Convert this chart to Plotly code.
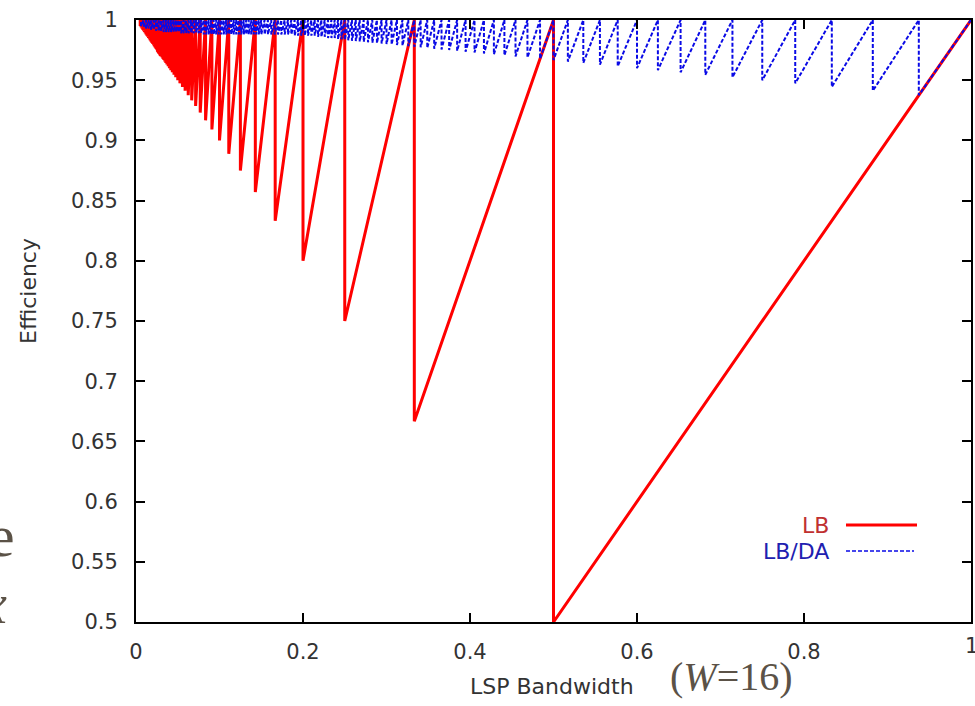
import plotly.graph_objects as go

# ---- data ----
# LB: positions where the curve drops (x) and the value it drops to (y)
lb_drop_x = [0.5, 0.3333, 0.25, 0.2, 0.1667, 0.1429, 0.125, 0.1111, 0.1, 0.0909,
             0.0833, 0.0769, 0.0714, 0.0667, 0.0625, 0.0588, 0.0556, 0.0526, 0.05, 0.0476,
             0.0455, 0.0435, 0.0417, 0.04, 0.0385, 0.037, 0.0357, 0.0345, 0.0333, 0.0323,
             0.0313, 0.0303, 0.0294, 0.0286, 0.0278, 0.027, 0.0263, 0.0256, 0.025,
             0.024, 0.023, 0.022, 0.021, 0.02, 0.019, 0.018, 0.017, 0.016, 0.015,
             0.014, 0.013, 0.012, 0.011, 0.01, 0.009, 0.008, 0.007, 0.006, 0.005]
lb_low_y = [0.5, 0.6667, 0.75, 0.8, 0.8333, 0.8571, 0.875, 0.8889, 0.9, 0.9091,
            0.9167, 0.9231, 0.9286, 0.9333, 0.9375, 0.9412, 0.9444, 0.9474, 0.95, 0.9524,
            0.9545, 0.9565, 0.9583, 0.96, 0.9615, 0.963, 0.9643, 0.9655, 0.9667, 0.9677,
            0.9688, 0.9697, 0.9706, 0.9714, 0.9722, 0.973, 0.9737, 0.9744, 0.975,
            0.976, 0.977, 0.978, 0.979, 0.98, 0.981, 0.982, 0.983, 0.984, 0.985,
            0.986, 0.987, 0.988, 0.989, 0.99, 0.991, 0.992, 0.993, 0.994, 0.995]

# LB/DA (W=16): drop positions and values
lbda_drop_x = [0.9375, 0.8824, 0.8333, 0.7895, 0.75, 0.7143, 0.6818, 0.6522, 0.625, 0.6,
               0.5769, 0.5556, 0.5357, 0.5172, 0.5, 0.4839, 0.4688, 0.4545, 0.4412, 0.4286,
               0.4167, 0.4054, 0.3947, 0.3846, 0.375, 0.3659, 0.3571, 0.3488, 0.3409, 0.3333,
               0.3261, 0.3191, 0.3125, 0.3061, 0.3, 0.2941, 0.2885, 0.283, 0.2778, 0.2727,
               0.2679, 0.2632, 0.2586, 0.2542, 0.25,
               0.246, 0.242, 0.238, 0.234, 0.23, 0.226, 0.222, 0.218, 0.214, 0.21,
               0.206, 0.202, 0.198, 0.194, 0.19, 0.186, 0.182, 0.178, 0.174, 0.17,
               0.166, 0.162, 0.158, 0.154, 0.15, 0.147, 0.144, 0.141, 0.138, 0.135,
               0.132, 0.129, 0.126, 0.123, 0.12, 0.117, 0.114, 0.111, 0.108, 0.105,
               0.102, 0.099, 0.096, 0.093, 0.09, 0.087, 0.084, 0.081, 0.078, 0.075,
               0.072, 0.069, 0.066, 0.063, 0.06, 0.057, 0.054, 0.051, 0.048, 0.045,
               0.042, 0.039, 0.036, 0.033, 0.03, 0.027, 0.024, 0.021, 0.018, 0.015,
               0.012, 0.009, 0.006]
lbda_low_y = [0.9375, 0.9412, 0.9444, 0.9474, 0.95, 0.9524, 0.9545, 0.9565, 0.9583, 0.96,
              0.9615, 0.963, 0.9643, 0.9655, 0.9667, 0.9677, 0.9688, 0.9697, 0.9706, 0.9714,
              0.9722, 0.973, 0.9737, 0.9744, 0.975, 0.9756, 0.9762, 0.9767, 0.9773, 0.9778,
              0.9783, 0.9787, 0.9792, 0.9796, 0.98, 0.9804, 0.9808, 0.9811, 0.9815, 0.9818,
              0.9821, 0.9825, 0.9828, 0.9831, 0.9833,
              0.984, 0.984, 0.985, 0.985, 0.985, 0.986, 0.986, 0.986, 0.987, 0.987,
              0.987, 0.987, 0.987, 0.987, 0.987, 0.988, 0.988, 0.988, 0.988, 0.988,
              0.988, 0.988, 0.988, 0.988, 0.988, 0.988, 0.988, 0.988, 0.988, 0.988,
              0.988, 0.988, 0.988, 0.988, 0.988, 0.988, 0.988, 0.988, 0.988, 0.988,
              0.988, 0.988, 0.988, 0.988, 0.988, 0.988, 0.988, 0.988, 0.989, 0.989,
              0.989, 0.989, 0.989, 0.989, 0.989, 0.989, 0.989, 0.99, 0.99, 0.99,
              0.99, 0.99, 0.99, 0.99, 0.991, 0.991, 0.991, 0.992, 0.992, 0.993,
              0.993, 0.994, 0.995]
peak_y = 1.0

x_tick_vals = [0, 0.2, 0.4, 0.6, 0.8, 1]
x_tick_text = ["0", "0.2", "0.4", "0.6", "0.8", "1"]
y_tick_vals = [0.5, 0.55, 0.6, 0.65, 0.7, 0.75, 0.8, 0.85, 0.9, 0.95, 1.0]
y_tick_text = ["0.5", "0.55", "0.6", "0.65", "0.7", "0.75", "0.8", "0.85", "0.9", "0.95", "1"]


def sawtooth(drop_x, low_y):
    xs, ys = [1.0], [peak_y]
    for dx, ly in zip(drop_x, low_y):
        xs += [dx, dx]
        ys += [ly, peak_y]
    return xs, ys


lb_x, lb_y = sawtooth(lb_drop_x, lb_low_y)
da_x, da_y = sawtooth(lbda_drop_x, lbda_low_y)

RED = "#ff0000"
BLUE = "#0a0ae6"
TXT = "#333333"
SLIDE = "#5b5247"
FONT = "DejaVu Sans"

fig = go.Figure()
fig.add_trace(go.Scatter(x=lb_x, y=lb_y, mode="lines", name="LB",
                         line=dict(color=RED, width=3), showlegend=False))
fig.add_trace(go.Scatter(x=da_x, y=da_y, mode="lines", name="LB/DA",
                         line=dict(color=BLUE, width=2, dash="4px,2px"), showlegend=False))

L, R, T, B = 136, 4, 20, 84
W, H = 975, 706
PW, PH = W - L - R, H - T - B


def px(xp):
    return (xp - L) / PW


def py(yp):
    return (H - B - yp) / PH


axis_common = dict(showline=True, linecolor="black", linewidth=2, mirror="ticks",
                   ticks="inside", ticklen=9, tickwidth=2, tickcolor="black",
                   showgrid=False, zeroline=False, automargin=False,
                   tickfont=dict(family=FONT, size=21, color=TXT))

# last x tick label sits on the page edge; it is drawn as an annotation
x_axis_text = x_tick_text[:-1] + [""]

fig.update_layout(
    width=W, height=H,
    margin=dict(l=L, r=R, t=T, b=B, autoexpand=False),
    paper_bgcolor="white", plot_bgcolor="white",
    xaxis=dict(range=[0, 1], tickvals=x_tick_vals, ticktext=x_axis_text,
               ticklabelstandoff=10, **axis_common),
    yaxis=dict(range=[0.5, 1], tickvals=y_tick_vals, ticktext=y_tick_text,
               ticklabelstandoff=12, **axis_common),
    showlegend=False,
)

annotations = [
    dict(text=x_tick_text[-1], x=x_tick_vals[-1], y=py(646),
         font=dict(family=FONT, size=21, color=TXT)),
    dict(text="Efficiency", x=px(28), y=py(291), textangle=-90,
         font=dict(family=FONT, size=22, color=TXT)),
    dict(text="LSP Bandwidth", x=px(552), y=py(686),
         font=dict(family=FONT, size=22, color=TXT)),
    dict(text="(<i>W</i>=16)", x=px(731), y=py(676),
         font=dict(family="Liberation Serif", size=40, color=SLIDE)),
    dict(text="e", x=px(17), y=py(536), xanchor="right",
         font=dict(family="Liberation Serif", size=60, color=SLIDE)),
    dict(text="<i>x</i>", x=px(9), y=py(604), xanchor="right",
         font=dict(family="Liberation Serif", size=56, color=SLIDE)),
    dict(text="LB", x=px(831), y=py(525), xanchor="right",
         font=dict(family=FONT, size=22, color="#c03030")),
    dict(text="LB/DA", x=px(831), y=py(551), xanchor="right",
         font=dict(family=FONT, size=22, color="#2020b0")),
]
for a in annotations:
    a.setdefault("xanchor", "center")
    a.update(xref="paper", yref="paper", yanchor="middle", showarrow=False)
fig.update_layout(annotations=annotations)

fig.add_shape(type="line", xref="paper", yref="paper",
              x0=px(846), x1=px(917), y0=py(525), y1=py(525),
              line=dict(color=RED, width=3))
fig.add_shape(type="line", xref="paper", yref="paper",
              x0=px(846), x1=px(914), y0=py(551), y1=py(551),
              line=dict(color=BLUE, width=1.6, dash="4px,2px"))

fig.write_html("out.html")
